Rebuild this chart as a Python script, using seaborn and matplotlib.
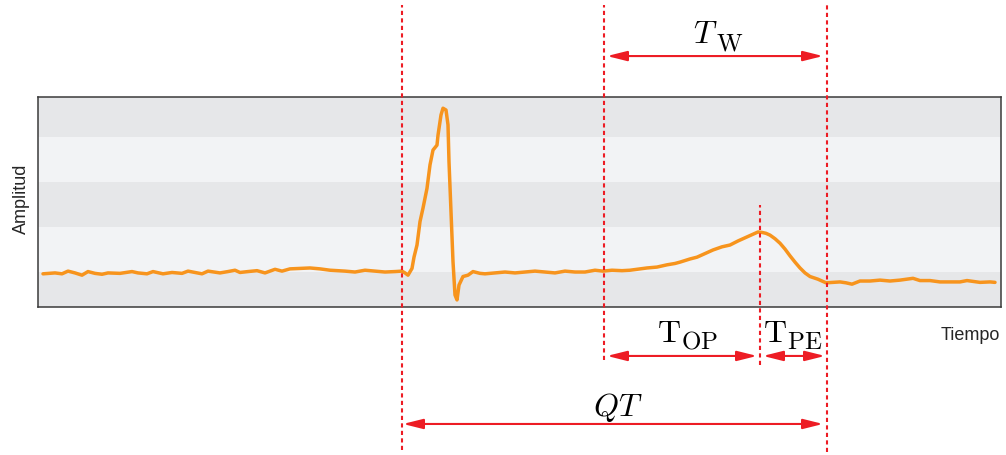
import matplotlib
matplotlib.use("Agg")
import matplotlib.pyplot as plt
import seaborn as sns
import pandas as pd

# ECG beat: time in samples, amplitude in mV
time = [5, 17, 24, 30, 37, 44, 50, 57, 64, 70, 82, 94, 100, 109, 115, 125, 134, 144, 150,
        159, 164, 170, 182, 190, 197, 202, 210, 219, 227, 237, 244, 252, 262, 272, 282, 292,
        307, 317, 327, 337, 347, 357, 364, 367,
        370, 374, 376, 379, 382, 385, 389, 392, 395, 399, 400, 403, 405, 408,
        410, 411, 413, 415, 417, 419, 421, 425, 430, 435, 442, 447,
        457, 467, 477, 487, 497, 507, 517, 527, 537, 547, 557, 565,
        574, 584, 592, 602, 609, 619, 629, 637, 642, 652, 659, 667, 675, 684, 692, 700, 709,
        715, 720, 724, 728, 732, 737, 742, 747, 752, 757, 762, 767, 772, 780, 788, 795, 802,
        808, 814, 822,
        832, 842, 852, 862, 875, 882, 892, 902, 912, 922, 929, 942, 952, 957]
amplitude = [-0.04, -0.02, -0.04, 0.02, -0.02, -0.07, 0.01, -0.03, -0.05, -0.02, -0.03, 0.01,
             -0.02, -0.04, 0.01, -0.04, -0.01, -0.03, 0.02, -0.02, -0.04, 0.02, -0.02, 0.01,
             0.04, -0.01, 0.01, 0.03, -0.02, 0.06, 0.02, 0.07, 0.08, 0.09, 0.07, 0.04, 0.02,
             0.00, 0.04, 0.02, 0.00, 0.01, 0.02, -0.02,
             -0.07, 0.08, 0.33, 0.60, 1.12, 1.42, 1.86, 2.38, 2.71, 2.82, 3.04, 3.49, 3.64,
             3.60, 3.27, 2.45, 1.34, 0.23, -0.51, -0.62, -0.29, -0.10, -0.07, 0.01,
             -0.03, -0.04,
             -0.02, 0.00, -0.02, 0.00, 0.02, 0.00, -0.02, 0.02, 0.00, 0.00, 0.04, 0.02,
             0.04, 0.03, 0.04, 0.07, 0.09, 0.11, 0.16, 0.19, 0.22, 0.29, 0.33, 0.41, 0.49,
             0.56, 0.60, 0.69, 0.78, 0.84, 0.89, 0.88, 0.86, 0.82, 0.74, 0.64, 0.51, 0.36,
             0.22, 0.09, -0.02, -0.10, -0.16, -0.24, -0.23, -0.22, -0.24, -0.27, -0.20,
             -0.20, -0.18, -0.20, -0.18, -0.14, -0.19, -0.19, -0.22, -0.22, -0.22, -0.19,
             -0.23, -0.22, -0.23]

# Fiducial points (samples)
q_onset = 364
t_onset = 566
t_peak = 722
t_end = 789

x_range = (0, 963)
y_range = (-0.784, 3.896)
band_edges = [y_range[0], 0, 1, 2, 3, y_range[1]]

ORANGE = "#f7941d"
RED = "#ed1c24"
BAND_DARK = "#e6e7e9"
BAND_LIGHT = "#f2f3f5"

sns.set_theme(style="white")
plt.rcParams["font.family"] = ["Liberation Sans", "DejaVu Sans"]
plt.rcParams["mathtext.fontset"] = "cm"

fig = plt.figure(figsize=(10.06, 4.55), dpi=100)
ax = fig.add_axes([38 / 1006, 1 - 307.3 / 455, 963 / 1006, 210.6 / 455])

# Alternating horizontal bands
for i in range(len(band_edges) - 1):
    ax.axhspan(band_edges[i], band_edges[i + 1],
               color=BAND_DARK if i % 2 == 0 else BAND_LIGHT, lw=0, zorder=0)

df = pd.DataFrame({"Tiempo": time, "Amplitud": amplitude})
sns.lineplot(data=df, x="Tiempo", y="Amplitud", color=ORANGE, linewidth=2.5,
             estimator=None, sort=False, ax=ax, zorder=3)

ax.set_xlim(*x_range)
ax.set_ylim(*y_range)
ax.set_xticks([])
ax.set_yticks([])
for sp in ax.spines.values():
    sp.set_color("#3a3a3a")
    sp.set_linewidth(1.1)

ax.set_xlabel("Tiempo", fontsize=13)
ax.xaxis.set_label_coords(0.968, -0.094)
ax.set_ylabel("Amplitud", fontsize=13)
ax.yaxis.set_label_coords(-0.0083, 0.514)

trans = ax.get_xaxis_transform()

# Dotted fiducial markers (y in axes fraction)
markers = [(q_onset, -0.678, 1.435), (t_onset, -0.250, 1.435),
           (t_peak, -0.274, 0.486), (t_end, -0.687, 1.435)]
for xm, y0, y1 in markers:
    ax.plot([xm, xm], [y0, y1], transform=trans, color=RED, lw=1.5,
            linestyle=(0, (2, 1.6)), clip_on=False, zorder=4)


def span_arrow(x0, x1, y):
    ax.annotate("", xy=(x1, y), xytext=(x0, y), xycoords=trans, textcoords=trans,
                arrowprops=dict(arrowstyle="<|-|>,head_length=1.2,head_width=0.3",
                                color=RED, lw=1.5, shrinkA=0, shrinkB=0,
                                mutation_scale=10),
                annotation_clip=False)


gap = 3
span_arrow(t_onset + gap, t_end - gap - 1, 1.193)
span_arrow(t_onset + gap, t_peak - gap, -0.231)
span_arrow(t_peak + gap, t_end - gap + 1, -0.231)
span_arrow(q_onset + 1, t_end - gap - 1, -0.554)


def interval_label(x, y, main, sub=None, dx=0.0):
    t = ax.text(x, y, main, transform=trans, ha="left", va="baseline", fontsize=23,
                color="black", clip_on=False)
    if sub:
        # subscript: right after the main symbol, baseline shifted down
        ax.annotate(sub, xy=(1, y), xycoords=(t, trans), xytext=(dx, -5),
                    textcoords="offset points", ha="left", va="baseline",
                    fontsize=18, color="black", annotation_clip=False)


interval_label(655, 1.253, r"$T$", r"$\mathrm{W}$", dx=-1.0)
interval_label(619, -0.165, r"$\mathrm{T}$", r"$\mathrm{OP}$")
interval_label(725, -0.165, r"$\mathrm{T}$", r"$\mathrm{PE}$")
interval_label(555, -0.516, r"$QT$")

fig.savefig("out.png", dpi=100)
